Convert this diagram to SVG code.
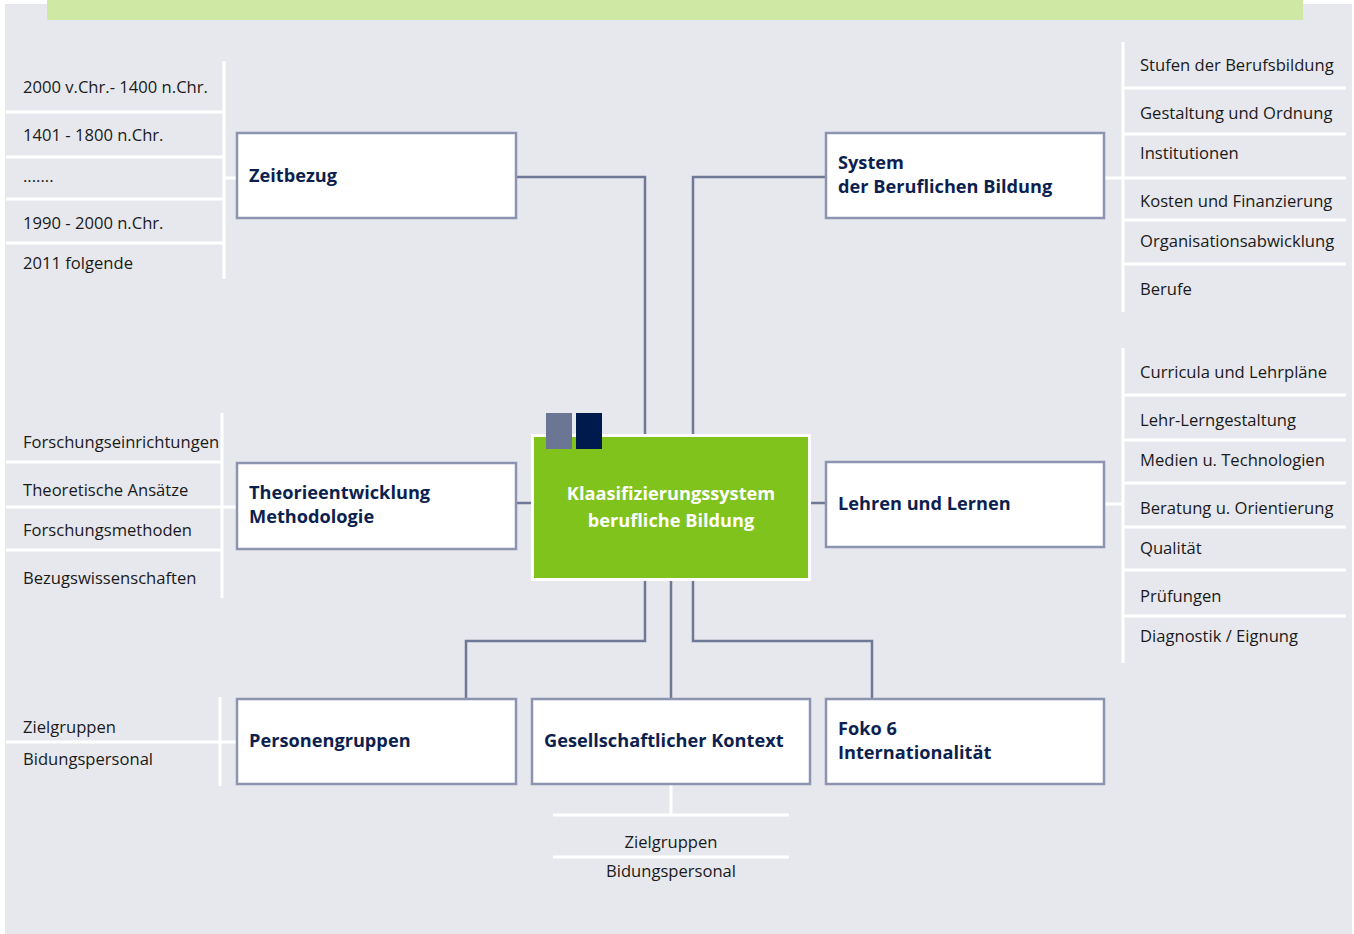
<svg xmlns="http://www.w3.org/2000/svg" width="1354" height="934" viewBox="0 0 1354 934">
<style>
.item{font-family:"Open Sans","Noto Sans",sans-serif;font-size:16.6px;fill:#1a1a1a}
.title{font-family:"Open Sans","Noto Sans",sans-serif;font-size:18.2px;font-weight:bold;fill:#0d1f4f}
.box{fill:#ffffff;stroke:#8c94b1;stroke-width:2.5}
.sep{stroke:#ffffff;stroke-width:3;fill:none}
.conn{stroke:#6f7896;stroke-width:2.5;fill:none}
</style>
<rect x="0" y="0" width="1354" height="934" fill="#ffffff"/>
<rect x="5" y="4" width="1347" height="930" fill="#e7e8ed"/>
<rect x="47" y="0" width="1256" height="20" fill="#cfe8a4"/>

<g id="connectors">
<path class="conn" d="M516 177 H645 V436"/>
<path class="conn" d="M826 177 H693 V436"/>
<path class="conn" d="M516 503 H532"/>
<path class="conn" d="M810 503 H826"/>
<path class="conn" d="M645 580 V641 H466 V698"/>
<path class="conn" d="M671 580 V698"/>
<path class="conn" d="M693 580 V641 H872 V698"/>
</g>

<g id="list-zeitbezug">
<path class="sep" d="M224 61 V279 M6 112 H224 M6 157 H224 M6 199 H224 M6 243 H224 M224 178 H237"/>
<text class="item" x="23" y="93">2000 v.Chr.- 1400 n.Chr.</text>
<text class="item" x="23" y="141">1401 - 1800 n.Chr.</text>
<text class="item" x="23" y="182">.......</text>
<text class="item" x="23" y="229">1990 - 2000 n.Chr.</text>
<text class="item" x="23" y="269">2011 folgende</text>
</g>

<g id="list-system">
<path class="sep" d="M1123 42 V312 M1123 88 H1346 M1123 134 H1346 M1123 178 H1346 M1123 220 H1346 M1123 264 H1346 M1104 178 H1123"/>
<text class="item" x="1140" y="71">Stufen der Berufsbildung</text>
<text class="item" x="1140" y="119">Gestaltung und Ordnung</text>
<text class="item" x="1140" y="159">Institutionen</text>
<text class="item" x="1140" y="207">Kosten und Finanzierung</text>
<text class="item" x="1140" y="247">Organisationsabwicklung</text>
<text class="item" x="1140" y="295">Berufe</text>
</g>

<g id="list-theorie">
<path class="sep" d="M222 413 V598 M6 462 H222 M6 507 H237 M6 550 H222"/>
<text class="item" x="23" y="448">Forschungseinrichtungen</text>
<text class="item" x="23" y="496">Theoretische Ansätze</text>
<text class="item" x="23" y="536">Forschungsmethoden</text>
<text class="item" x="23" y="584">Bezugswissenschaften</text>
</g>

<g id="list-lehren">
<path class="sep" d="M1123 348 V663 M1123 395 H1346 M1123 440 H1346 M1123 483 H1346 M1123 527 H1346 M1123 570 H1346 M1123 616 H1346 M1104 504 H1123"/>
<text class="item" x="1140" y="378">Curricula und Lehrpläne</text>
<text class="item" x="1140" y="426">Lehr-Lerngestaltung</text>
<text class="item" x="1140" y="466">Medien u. Technologien</text>
<text class="item" x="1140" y="514">Beratung u. Orientierung</text>
<text class="item" x="1140" y="554">Qualität</text>
<text class="item" x="1140" y="602">Prüfungen</text>
<text class="item" x="1140" y="642">Diagnostik / Eignung</text>
</g>

<g id="list-personen">
<path class="sep" d="M220 697 V786 M6 742 H237"/>
<text class="item" x="23" y="733">Zielgruppen</text>
<text class="item" x="23" y="765">Bidungspersonal</text>
</g>

<g id="list-gesellschaft">
<path class="sep" d="M671 785 V815 M553 815 H789 M553 857 H789"/>
<text class="item" x="671" y="848" text-anchor="middle">Zielgruppen</text>
<text class="item" x="671" y="877" text-anchor="middle">Bidungspersonal</text>
</g>

<g id="node-zeitbezug">
<rect class="box" x="237" y="133" width="279" height="85"/>
<text class="title" x="249" y="182">Zeitbezug</text>
</g>

<g id="node-system">
<rect class="box" x="826" y="133" width="278" height="85"/>
<text class="title" x="838" y="169">System</text>
<text class="title" x="838" y="193">der Beruflichen Bildung</text>
</g>

<g id="node-theorie">
<rect class="box" x="237" y="463" width="279" height="86"/>
<text class="title" x="249" y="499">Theorieentwicklung</text>
<text class="title" x="249" y="523">Methodologie</text>
</g>

<g id="node-lehren">
<rect class="box" x="826" y="462" width="278" height="85"/>
<text class="title" x="838" y="510">Lehren und Lernen</text>
</g>

<g id="node-center">
<rect x="532.5" y="435.5" width="277" height="144" fill="#80c31c" stroke="#ffffff" stroke-width="3"/>
<rect x="546" y="413" width="26" height="36" fill="#6b7594"/>
<rect x="576" y="413" width="26" height="36" fill="#001a4d"/>
<text class="title" x="671" y="500" text-anchor="middle" style="fill:#ffffff">Klaasifizierungssystem</text>
<text class="title" x="671" y="527" text-anchor="middle" style="fill:#ffffff">berufliche Bildung</text>
</g>

<g id="node-personen">
<rect class="box" x="237" y="699" width="279" height="85"/>
<text class="title" x="249" y="747">Personengruppen</text>
</g>

<g id="node-gesellschaft">
<rect class="box" x="532" y="699" width="278" height="85"/>
<text class="title" x="544" y="747">Gesellschaftlicher Kontext</text>
</g>

<g id="node-foko">
<rect class="box" x="826" y="699" width="278" height="85"/>
<text class="title" x="838" y="735">Foko 6</text>
<text class="title" x="838" y="759">Internationalität</text>
</g>
</svg>
